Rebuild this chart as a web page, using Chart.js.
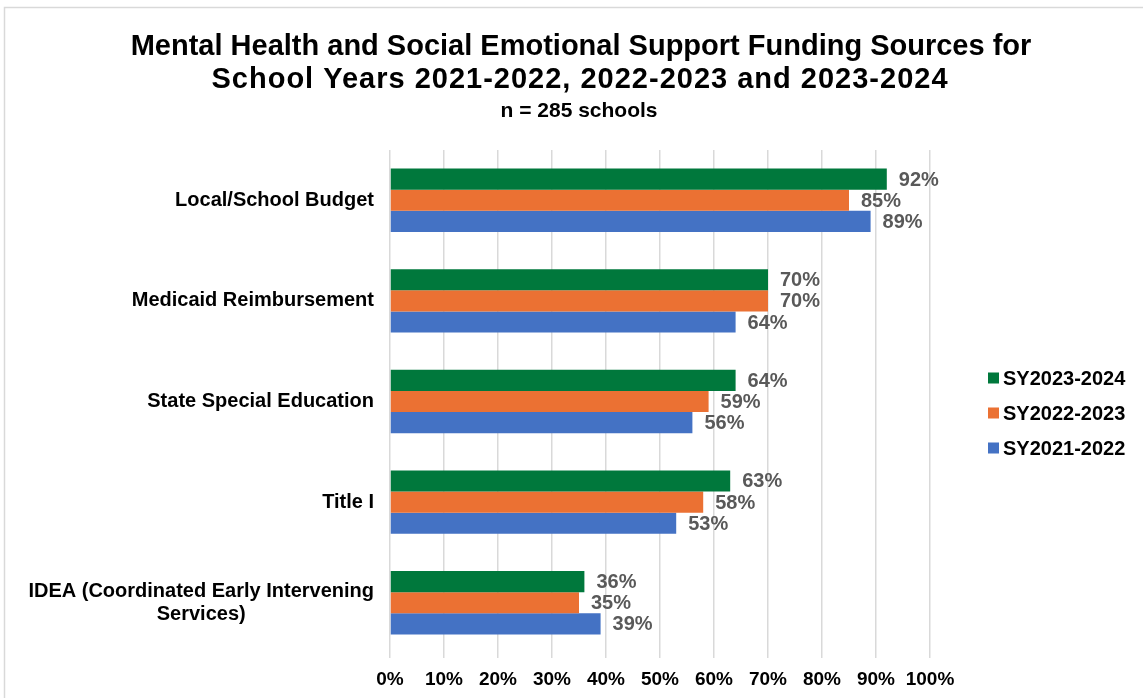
<!DOCTYPE html>
<html>
<head>
<meta charset="utf-8">
<script src="https://cdn.jsdelivr.net/npm/chart.js@4"></script>
<style>
  html, body { margin: 0; padding: 0; background: #ffffff; }
  #wrap { position: relative; width: 1143px; height: 698px; }
</style>
</head>
<body>
<div id="wrap"><canvas id="c" width="1143" height="698"></canvas></div>
<script>
// Funding sources (one row each) and percentage of schools per school year
const categories = [
  'Local/School Budget',
  'Medicaid Reimbursement',
  'State Special Education',
  'Title I',
  ['IDEA (Coordinated Early Intervening', 'Services)']
];
const sy2023_2024 = [92, 70, 64, 63, 36];
const sy2022_2023 = [85, 70, 59, 58, 35];
const sy2021_2022 = [89, 64, 56, 53, 39];
const seriesNames = ['SY2023-2024', 'SY2022-2023', 'SY2021-2022'];
const xTicks = [0, 10, 20, 30, 40, 50, 60, 70, 80, 90, 100];
const titleLines = [
  'Mental Health and Social Emotional Support Funding Sources for',
  'School Years 2021-2022, 2022-2023 and 2023-2024'
];
const subtitleText = 'n = 285 schools';

const colors = ['#00783C', '#EB7133', '#4472C4'];
const FAMILY = '"Liberation Sans", Arial, sans-serif';
const labelFont = 'bold 20px ' + FAMILY;

// White background and light frame around the chart
const framePlugin = {
  id: 'frame',
  beforeDraw(chart) {
    const ctx = chart.ctx;
    ctx.save();
    ctx.fillStyle = '#ffffff';
    ctx.fillRect(0, 0, chart.width, chart.height);
    ctx.strokeStyle = '#d9d9d9';
    ctx.lineWidth = 1.5;
    ctx.strokeRect(4.5, 7.5, chart.width + 20, chart.height + 20);
    ctx.restore();
  }
};

// Two-line title and the sample-size note, centred on the page
const headingPlugin = {
  id: 'heading',
  afterDraw(chart) {
    const ctx = chart.ctx;
    ctx.save();
    ctx.fillStyle = '#000000';
    ctx.textAlign = 'center';
    ctx.textBaseline = 'middle';
    ctx.font = 'bold 29px ' + FAMILY;
    ctx.fillText(titleLines[0], 581, 47);
    if ('letterSpacing' in ctx) ctx.letterSpacing = '1px';
    ctx.fillText(titleLines[1], 580, 80);
    if ('letterSpacing' in ctx) ctx.letterSpacing = '0px';
    ctx.font = 'bold 21px ' + FAMILY;
    ctx.fillText(subtitleText, 579, 111);
    ctx.restore();
  }
};

// Category names: block right-aligned to the axis, lines centred within the block
const categoryLabelPlugin = {
  id: 'categoryLabels',
  afterDraw(chart) {
    const ctx = chart.ctx;
    const y = chart.scales.y;
    ctx.save();
    ctx.font = labelFont;
    ctx.fillStyle = '#000000';
    ctx.textAlign = 'center';
    ctx.textBaseline = 'middle';
    const lineH = 23;
    chart.data.labels.forEach((lab, i) => {
      const lines = Array.isArray(lab) ? lab : [lab];
      const w = Math.max(...lines.map(l => ctx.measureText(l).width));
      const right = chart.chartArea.left - 16;
      const cx = right - w / 2;
      const cy = y.getPixelForValue(i);
      const y0 = cy - (lines.length - 1) * lineH / 2;
      lines.forEach((l, k) => ctx.fillText(l, cx, y0 + k * lineH));
    });
    ctx.restore();
  }
};

// Percent labels at the end of each bar
const valueLabelPlugin = {
  id: 'valueLabels',
  afterDatasetsDraw(chart) {
    const ctx = chart.ctx;
    ctx.save();
    ctx.font = labelFont;
    ctx.fillStyle = '#595959';
    ctx.textAlign = 'left';
    ctx.textBaseline = 'middle';
    chart.data.datasets.forEach((ds, di) => {
      chart.getDatasetMeta(di).data.forEach((bar, i) => {
        ctx.fillText(ds.data[i] + '%', bar.x + 12, bar.y + 1);
      });
    });
    ctx.restore();
  }
};

// Legend on the right
const legendPlugin = {
  id: 'sideLegend',
  afterDraw(chart) {
    const ctx = chart.ctx;
    ctx.save();
    ctx.font = labelFont;
    ctx.textBaseline = 'middle';
    ctx.textAlign = 'left';
    const x = 988, yStart = 378, step = 35;
    chart.data.datasets.forEach((ds, i) => {
      const yy = yStart + i * step;
      ctx.fillStyle = ds.backgroundColor;
      ctx.fillRect(x, yy - 5.5, 11, 11);
      ctx.fillStyle = '#000000';
      ctx.fillText(ds.label, x + 15, yy + 1);
    });
    ctx.restore();
  }
};

new Chart(document.getElementById('c'), {
  type: 'bar',
  data: {
    labels: categories,
    datasets: [
      { label: seriesNames[0], data: sy2023_2024, backgroundColor: colors[0] },
      { label: seriesNames[1], data: sy2022_2023, backgroundColor: colors[1] },
      { label: seriesNames[2], data: sy2021_2022, backgroundColor: colors[2] }
    ]
  },
  options: {
    indexAxis: 'y',
    responsive: false,
    animation: false,
    devicePixelRatio: 1,
    datasets: { bar: { barPercentage: 1.0, categoryPercentage: 0.63 } },
    layout: { padding: { left: 15, right: 213, top: 150, bottom: 5 } },
    plugins: {
      legend: { display: false },
      tooltip: { enabled: false },
      title: { display: false }
    },
    scales: {
      x: {
        min: 0,
        max: 100,
        afterBuildTicks(scale) { scale.ticks = xTicks.map(v => ({ value: v })); },
        afterFit(scale) { scale.height = 40; },
        ticks: {
          callback: v => v + '%',
          color: '#000000',
          font: { family: FAMILY, size: 19, weight: 'bold' },
          padding: 10,
          maxRotation: 0,
          autoSkip: false
        },
        grid: { color: '#d9d9d9', lineWidth: 1.5, tickLength: 5, drawTicks: true },
        border: { display: false }
      },
      y: {
        ticks: { display: false },
        grid: { display: false },
        border: { display: false },
        afterFit(scale) { scale.width = 375; }
      }
    }
  },
  plugins: [framePlugin, headingPlugin, categoryLabelPlugin, valueLabelPlugin, legendPlugin]
});
</script>
</body>
</html>
